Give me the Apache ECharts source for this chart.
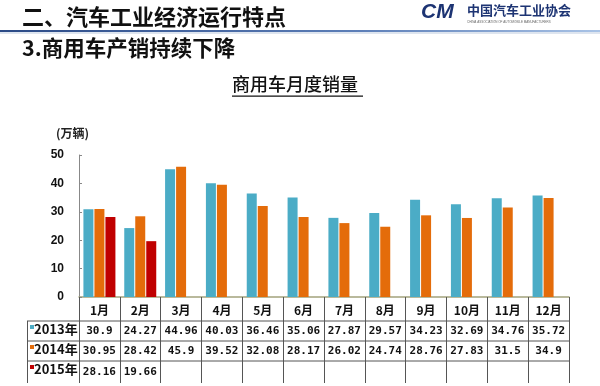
<!DOCTYPE html>
<html>
<head>
<meta charset="utf-8">
<script src="https://cdn.jsdelivr.net/npm/echarts@6/dist/echarts.min.js"></script>
<style>
html,body{margin:0;padding:0;background:#fff;}
#c{width:600px;height:386px;}
</style>
</head>
<body>
<div id="c"></div>
<script>
var months = ['1月','2月','3月','4月','5月','6月','7月','8月','9月','10月','11月','12月'];
var seriesNames = ['2013年','2014年','2015年'];
var s2013 = [30.9,24.27,44.96,40.03,36.46,35.06,27.87,29.57,34.23,32.69,34.76,35.72];
var s2014 = [30.95,28.42,45.9,39.52,32.08,28.17,26.02,24.74,28.76,27.83,31.5,34.9];
var s2015 = [28.16,19.66,null,null,null,null,null,null,null,null,null,null];
var yTicks = [0,10,20,30,40,50];
var colors = ['#4bacc6','#e46c0a','#c00000'];

var chart = echarts.init(document.getElementById('c'));

function fmt(v){ return (v === null || v === undefined) ? ' ' : String(v); }

var tableTop = 321, rowH = 20, tableLeft = 27, tableRight = 569;
var graphics = [
  {type:'text', left:22, top:6, style:{text:'二、汽车工业经济运行特点', fontSize:22, fontWeight:'bold', fontFamily:'Noto Sans CJK SC', fill:'#111'}},
  {type:'rect', shape:{x:0,y:30,width:600,height:2}, style:{fill:new echarts.graphic.LinearGradient(0,0,1,0,[{offset:0,color:'#2b4a86'},{offset:0.6,color:'#5d7fb8'},{offset:1,color:'#a9c3e6'}])}},
  {type:'rect', shape:{x:0,y:32,width:600,height:2}, style:{fill:'rgba(160,180,210,0.35)'}},
  {type:'text', left:22, top:37, style:{text:'3.商用车产销持续下降', fontSize:21.5, fontWeight:'bold', fontFamily:'Noto Sans CJK SC', fill:'#111'}},
  {type:'text', left:421, top:2, style:{text:'CM', fontSize:21, fontStyle:'italic', fontWeight:'bold', fontFamily:'Liberation Sans', fill:'#1d3473'}},
  {type:'text', left:467, top:4, style:{text:'中国汽车工业协会', fontSize:13, fontWeight:'bold', fontFamily:'Noto Sans CJK SC', fill:'#1d3473'}},
  {type:'text', left:467, top:21, style:{text:'CHINA ASSOCIATION OF AUTOMOBILE MANUFACTURERS', fontSize:3, fontFamily:'Liberation Sans', fill:'#666'}},
  {type:'text', left:232, top:75, style:{text:'商用车月度销量', fontSize:18, fontWeight:500, fontFamily:'Noto Sans CJK SC', fill:'#111'}},
  {type:'rect', shape:{x:232,y:95.5,width:131,height:1.2}, style:{fill:'#111'}},
  {type:'text', left:56, top:127, style:{text:'(万辆)', fontSize:12, fontWeight:'bold', fontFamily:'Noto Sans CJK SC', fill:'#222'}}
];
for (var i = 0; i < 3; i++) {
  graphics.push({type:'line', shape:{x1:tableLeft,y1:tableTop + i*rowH,x2:tableRight,y2:tableTop + i*rowH}, style:{stroke:'#555',lineWidth:1}});
}
graphics.push({type:'line', shape:{x1:tableLeft+0.5,y1:tableTop,x2:tableLeft+0.5,y2:383}, style:{stroke:'#555',lineWidth:1}});
for (var j = 0; j < seriesNames.length; j++) {
  var cy = tableTop + j*rowH;
  graphics.push({type:'rect', shape:{x:30,y:cy+4,width:4,height:4}, style:{fill:colors[j]}});
  graphics.push({type:'text', left:34, top:cy+2, style:{text:seriesNames[j], fontSize:13, fontWeight:'bold', fontFamily:'Noto Sans CJK SC', fill:'#111'}});
}

chart.setOption({
  animation:false,
  grid:{left:79,right:31,top:155,bottom:89},
  xAxis:{
    type:'category', data:months, boundaryGap:true,
    axisLine:{lineStyle:{color:'#a3a37c',width:1.5}},
    axisTick:{show:true, alignWithLabel:false, length:86, lineStyle:{color:'#555'}},
    axisLabel:{
      margin:3, interval:0,
      formatter:function(val, idx){
        return '{m|' + val + '}\n{n|' + fmt(s2013[idx]) + '}\n{n|' + fmt(s2014[idx]) + '}\n{n|' + fmt(s2015[idx]) + '}';
      },
      rich:{
        m:{fontSize:12, fontWeight:'bold', fontFamily:'Noto Sans CJK SC', color:'#111', lineHeight:20.5},
        n:{fontSize:11, fontWeight:'bold', fontFamily:'DejaVu Sans Mono', color:'#111', lineHeight:20.5}
      }
    }
  },
  yAxis:{
    type:'value', min:0, max:50, interval:10,
    axisLine:{show:true, lineStyle:{color:'#888'}},
    axisTick:{show:true, inside:true, length:3, lineStyle:{color:'#888'}},
    splitLine:{show:false},
    axisLabel:{margin:15, fontSize:12, fontWeight:'bold', fontFamily:'Liberation Sans', color:'#111',
      formatter:function(v){ return yTicks.indexOf(v) >= 0 ? String(v) : ''; }}
  },
  series:[
    {name:seriesNames[0], type:'bar', data:s2013, barWidth:10, barGap:'10%', itemStyle:{color:colors[0]}},
    {name:seriesNames[1], type:'bar', data:s2014, barWidth:10, barGap:'10%', itemStyle:{color:colors[1]}},
    {name:seriesNames[2], type:'bar', data:s2015, barWidth:10, barGap:'10%', itemStyle:{color:colors[2]}}
  ],
  graphic:graphics
});
</script>
</body>
</html>
